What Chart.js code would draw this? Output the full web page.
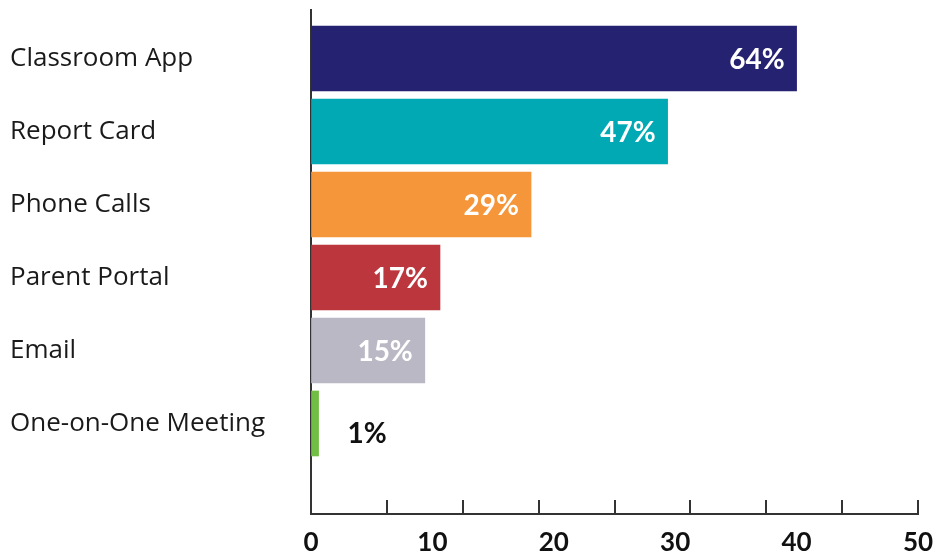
<!DOCTYPE html>
<html>
<head>
<meta charset="utf-8">
<script src="https://cdn.jsdelivr.net/npm/chart.js@4.4.1/dist/chart.umd.min.js"></script>
<style>
  html, body { margin: 0; padding: 0; background: #fff; }
  #wrap { width: 936px; height: 557px; }
</style>
</head>
<body>
<div id="wrap"><canvas id="grafico" width="936" height="557"></canvas></div>
<script>
// Communication channels, share of respondents (%)
var categorias = ['Classroom App', 'Report Card', 'Phone Calls', 'Parent Portal', 'Email', 'One-on-One Meeting'];
var percentuais = [64, 47, 29, 17, 15, 1];
var cores = ['#262272', '#00a9b4', '#f5963a', '#bc363d', '#bab8c5', '#72be44'];
var rotulosEixo = ['0', '10', '20', '30', '40', '50'];

var FONTE_TEXTO = "'Open Sans', 'Noto Sans', sans-serif";
var FONTE_NUM = "'Lato', 'Open Sans', sans-serif";

(function () {
    'use strict';

    // small tick marks pointing up from the bottom axis line
    var marcasEixo = {
        id: 'marcasEixo',
        afterDraw: function (chart) {
            var esc = chart.scales.x;
            var ctx = chart.ctx;
            ctx.save();
            ctx.strokeStyle = '#333';
            ctx.lineWidth = 2;
            esc.ticks.forEach(function (t) {
                var px = Math.round(esc.getPixelForValue(t.value));
                ctx.beginPath();
                ctx.moveTo(px, esc.top);
                ctx.lineTo(px, esc.top - 14);
                ctx.stroke();
            });
            ctx.restore();
        }
    };

    // percentage text at the end of each bar (outside when the bar is too short)
    var rotulosBarras = {
        id: 'rotulosBarras',
        afterDatasetsDraw: function (chart) {
            var ctx = chart.ctx;
            var meta = chart.getDatasetMeta(0);
            ctx.save();
            ctx.font = 'bold 28px ' + FONTE_NUM;
            ctx.textBaseline = 'middle';
            meta.data.forEach(function (bar, i) {
                var texto = percentuais[i] + '%';
                var largura = ctx.measureText(texto).width;
                var comprimento = bar.x - bar.base;
                if (comprimento > largura + 24) {
                    ctx.fillStyle = '#ffffff';
                    ctx.textAlign = 'right';
                    ctx.fillText(texto, bar.x - 12, bar.y + 1);
                } else {
                    ctx.fillStyle = '#111111';
                    ctx.textAlign = 'left';
                    ctx.fillText(texto, bar.x + 29, bar.y + 10);
                }
            });
            ctx.restore();
        }
    };

    var pontos = percentuais.map(function (v, i) { return { x: v, y: i }; });

    new Chart(document.getElementById('grafico'), {
        type: 'bar',
        data: {
            datasets: [{
                data: pontos,
                backgroundColor: cores,
                borderWidth: 0,
                barThickness: 65
            }]
        },
        options: {
            indexAxis: 'y',
            responsive: false,
            animation: false,
            layout: { padding: { left: 10, top: 10, right: 18, bottom: 0 } },
            plugins: {
                legend: { display: false },
                tooltip: { enabled: false }
            },
            scales: {
                y: {
                    type: 'linear',
                    reverse: true,
                    offset: false,
                    min: -0.664,
                    max: 6.24,
                    afterBuildTicks: function (s) {
                        s.ticks = categorias.map(function (_, i) { return { value: i }; });
                    },
                    afterFit: function (s) {
                        s.width = 301;
                        s.paddingTop = 0;
                        s.paddingBottom = 0;
                    },
                    ticks: {
                        callback: function (v) { return categorias[v]; },
                        crossAlign: 'far',
                        padding: 0,
                        color: '#1a1a1a',
                        font: { family: FONTE_TEXTO, size: 26 }
                    },
                    grid: { display: false, drawTicks: false },
                    border: { display: true, color: '#333', width: 2 }
                },
                x: {
                    type: 'linear',
                    min: 0,
                    max: 80,
                    weight: 0,
                    afterFit: function (s) {
                        s.height = 0;
                        s.paddingLeft = 0;
                        s.paddingRight = 0;
                    },
                    ticks: { display: false, stepSize: 10 },
                    grid: { drawOnChartArea: false, drawTicks: false },
                    border: { display: true, color: '#333', width: 2 }
                },
                x2: {
                    type: 'linear',
                    position: 'bottom',
                    min: 0,
                    max: 50,
                    weight: 1,
                    afterBuildTicks: function (s) {
                        s.ticks = rotulosEixo.map(function (r) { return { value: Number(r) }; });
                    },
                    afterFit: function (s) {
                        s.height = 43;
                        s.paddingLeft = 0;
                        s.paddingRight = 0;
                    },
                    ticks: {
                        callback: function (v, i) { return rotulosEixo[i]; },
                        autoSkip: false,
                        maxRotation: 0,
                        padding: 13,
                        color: '#111',
                        font: { family: FONTE_NUM, size: 26, weight: 'bold' }
                    },
                    grid: { display: false, drawTicks: false },
                    border: { display: false }
                }
            }
        },
        plugins: [marcasEixo, rotulosBarras]
    });
})();
</script>
</body>
</html>
